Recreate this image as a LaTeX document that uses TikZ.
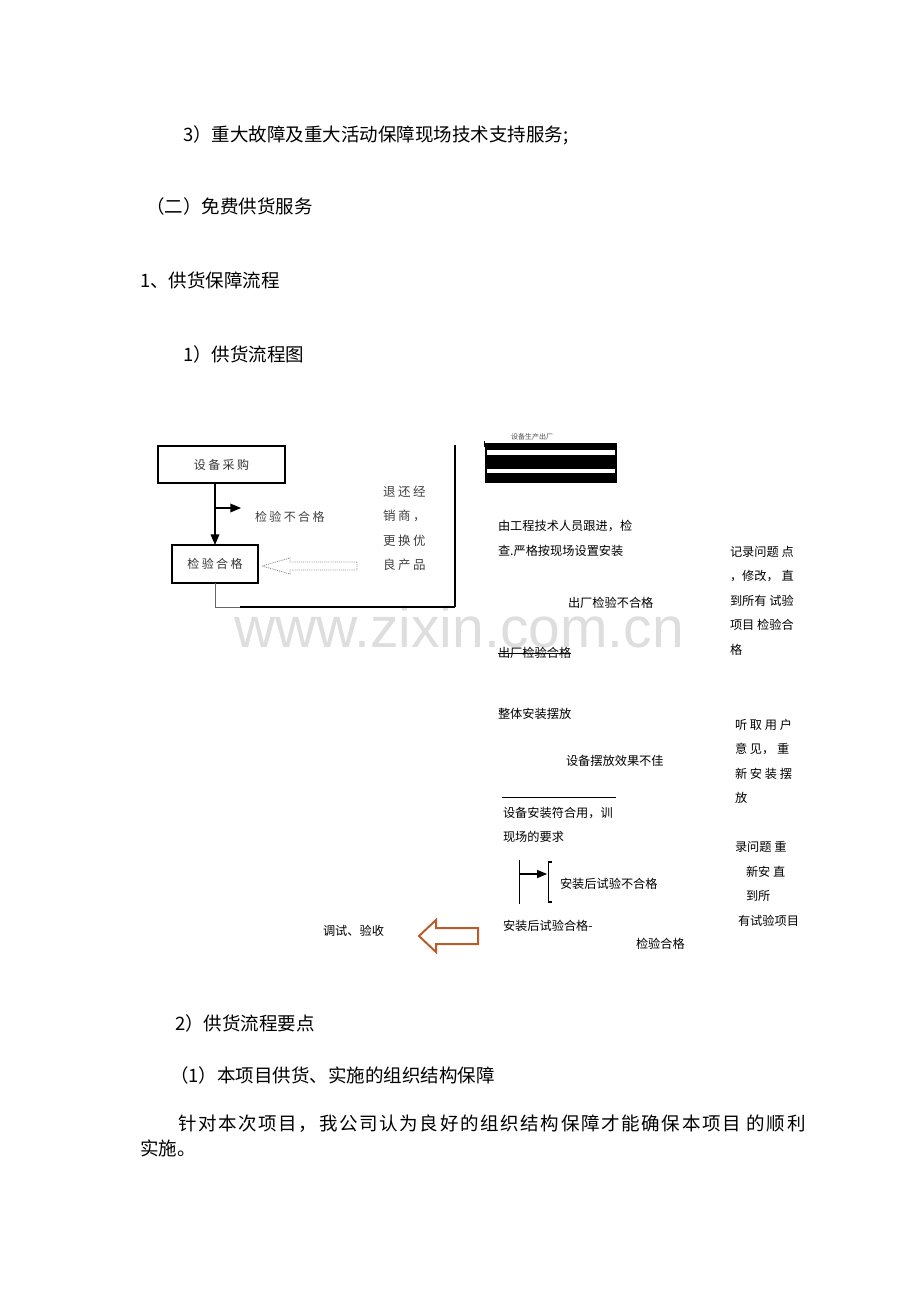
\documentclass[tikz,border=0pt]{standalone}
\usepackage{fontspec}
\setmainfont{Noto Sans CJK SC}
\newfontfamily\spaced[LetterSpace=20]{Noto Sans CJK SC}
\newfontfamily\wide[LetterSpace=9]{Noto Sans CJK SC}
\newfontfamily\wmfont{Liberation Sans}
\usetikzlibrary{arrows}
\definecolor{arrowbrown}{RGB}{184,92,44}

\begin{document}
\begin{tikzpicture}[x=1pt,y=-1pt]
	\tikzstyle{every node} = [inner sep=0pt, outer sep=0pt]
	\tikzstyle{body} = [anchor=west, font=\fontsize{18.5}{22}\selectfont]
	\tikzstyle{note} = [anchor=west, align=left, font=\fontsize{12.2}{24.5}\selectfont]
	\tikzstyle{spread} = [font=\fontsize{12}{24.5}\spaced, text=black!75]
	\tikzstyle{box} = [draw, spread, text=black!80]
	\useasboundingbox (0,0) rectangle (920,1302);

	% watermark
	\node[text=black!13, font=\fontsize{57}{60}\wmfont] (WM) at (459,627) {www.zixin.com.cn};

	\node[body] (Head3) at (183,135) {3）重大故障及重大活动保障现场技术支持服务;};
	\node[body] (HeadTwo) at (146,206) {（二）免费供货服务};
	\node[body] (HeadOne) at (140,280) {1、供货保障流程};
	\node[body] (HeadChart) at (183,354) {1）供货流程图};

	% left part
	\node[box, line width=1.2pt, minimum width=127pt, minimum height=37pt] (Buy) at (221.5,464.5) {设备采购};
	\node[box, line width=2pt, minimum width=86pt, minimum height=38pt] (Check) at (215,564) {检验合格};
	\node[spread, anchor=west] (Fail) at (255,517) {检验不合格};
	\node[spread, anchor=west, align=left, font=\fontsize{12.5}{24.5}\spaced] (Return) at (383,528.5) {退还经\\销商，\\更换优\\良产品};
	\coordinate (Fork) at (214,508);
	\coordinate (Corner) at (455,607);

	\draw [line width=1.5pt, -triangle 45] (Buy.south -| Check.north) -- (Check.north);
	\draw [line width=1.5pt, -triangle 45] (Fork) -- ++(27,0);
	\draw [black!60] (Check.south) -- (Check.south |- Corner) -- (240,607);
	\draw [line width=1.8pt] (240,607) -- (Corner);
	\draw [line width=1.5pt] (Corner) -- (455,445);
	\draw [densely dotted, black!45, line width=0.9pt] (357,562) -- (290,562) -- (290,558) -- (262,566)
		-- (290,574) -- (290,570) -- (357,570) -- cycle;

	% right part
	\fill (485,443) rectangle (617,483);
	\fill[white] (487,449.5) rectangle (615,455);
	\fill[white] (487,468.5) rectangle (615,472.5);
	\draw (484,441) -- (484,447);
	\node[font=\fontsize{7}{8}\selectfont, text=black!70] (Stamp) at (532,437) {设备生产出厂};

	\node[note] (Follow) at (498,538.5) {由工程技术人员跟进，检\\查.严格按现场设置安装};
	\node[note] (Record1) at (730,600.5) {记录问题 点\\，修改， 直\\到所有 试验\\项目 检验合\\格};
	\node[note] (FactFail) at (568,603) {出厂检验不合格};
	\node[note] (FactPass) at (498,653) {出厂检验合格};
	\draw (FactPass.west) -- (FactPass.east);
	\node[note] (Place) at (498,714) {整体安装摆放};
	\node[note] (Listen) at (735,761.5) {听 取 用 户\\意 见， 重\\新 安 装 摆\\放};
	\node[note] (Bad) at (566,761) {设备摆放效果不佳};
	\draw (502,797) -- (616,797);
	\node[note] (Fit) at (503,825) {设备安装符合用，训\\现场的要求};
	\node[note] (Record2) at (735,884) {录问题 重\\\hspace{11pt}新安 直\\\hspace{11pt}到所\\\hspace{3pt}有试验项目};

	\coordinate (Stem) at (519,874);
	\draw (519,860) -- (519,904);
	\draw [line width=1.3pt, -triangle 45] (Stem) -- ++(28,0);
	\draw [line width=1.8pt] (552,862) -- (548.5,862) -- (548.5,902) -- (552,902);
	\node[note] (TestFail) at (560,884) {安装后试验不合格};
	\node[note] (TestPass) at (503,926) {安装后试验合格-};
	\node[note] (Passed) at (636,944) {检验合格};
	\node[note] (Accept) at (323,931) {调试、验收};
	\draw [arrowbrown, line width=2pt, line join=miter] (478,928) -- (436,928) -- (436,920) -- (419,936)
		-- (436,952) -- (436,944) -- (478,944) -- cycle;

	% text below
	\node[body] (HeadPoints) at (175,1023) {2）供货流程要点};
	\node[body] (HeadOrg) at (170,1075) {（1）本项目供货、实施的组织结构保障};
	\node[body, font=\fontsize{18.5}{22}\wide] (Para1) at (178,1124) {针对本次项目，我公司认为良好的组织结构保障才能确保本项目 的顺利};
	\node[body] (Para2) at (140,1148) {实施。};
\end{tikzpicture}
\end{document}
